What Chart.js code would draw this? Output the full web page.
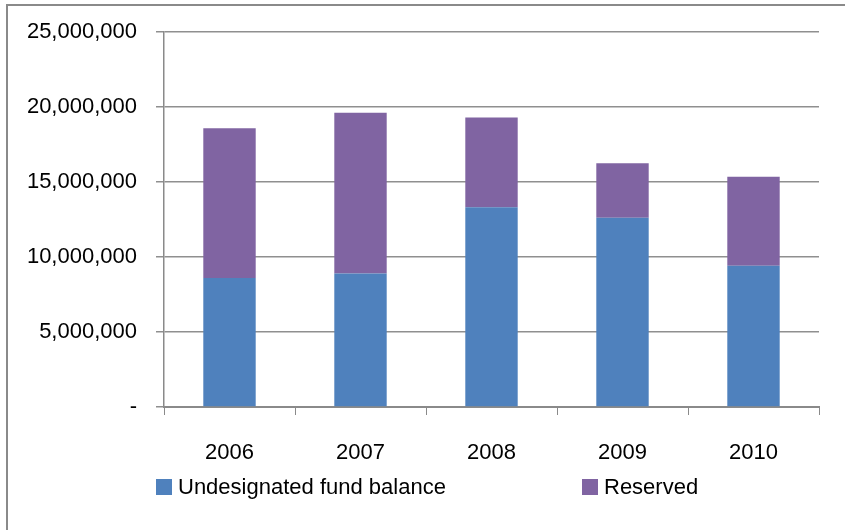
<!DOCTYPE html>
<html>
<head>
<meta charset="utf-8">
<script src="https://cdn.jsdelivr.net/npm/chart.js@4/dist/chart.umd.min.js"></script>
<style>
  html, body { margin: 0; padding: 0; background: #fff; overflow: hidden; }
  #wrap { position: relative; width: 845px; height: 530px; }
  #frame { position: absolute; left: 6px; top: 4px; width: 900px; height: 600px; border: 2px solid #8a8a8a; box-sizing: border-box; }
  canvas { position: absolute; left: 0; top: 0; }
</style>
</head>
<body>
<div id="wrap">
  <div id="frame"></div>
  <canvas id="c" width="845" height="530"></canvas>
</div>
<script>
const categories = ["2006", "2007", "2008", "2009", "2010"];
const undesignated = [8600000, 8910000, 13320000, 12620000, 9430000];
const reserved = [9990000, 10720000, 5990000, 3640000, 5920000];
const seriesNames = ["Undesignated fund balance", "Reserved"];
const yTicks = [0, 5000000, 10000000, 15000000, 20000000, 25000000];

const FONT = "'Liberation Sans', Arial, sans-serif";
const legendX = [156, 582];

const legendPlugin = {
  id: 'customLegend',
  afterDraw(chart) {
    const ctx = chart.ctx;
    ctx.save();
    ctx.font = "22px " + FONT;
    ctx.textBaseline = 'middle';
    ctx.textAlign = 'left';
    chart.data.datasets.forEach((ds, i) => {
      const x = legendX[i];
      const y = 487;
      ctx.fillStyle = ds.backgroundColor;
      ctx.fillRect(x, y - 8, 16, 16);
      ctx.fillStyle = '#000';
      ctx.fillText(ds.label, x + 22, y + 1);
    });
    ctx.restore();
  }
};

new Chart(document.getElementById('c'), {
  type: 'bar',
  data: {
    labels: categories,
    datasets: [
      { label: seriesNames[0], data: undesignated, backgroundColor: '#4F81BD', borderWidth: 0 },
      { label: seriesNames[1], data: reserved, backgroundColor: '#8064A2', borderWidth: 0 }
    ]
  },
  options: {
    responsive: false,
    animation: false,
    devicePixelRatio: 1,
    layout: { padding: { left: 0, right: 26, top: 30, bottom: 0 } },
    datasets: { bar: { barPercentage: 0.4, categoryPercentage: 1.0 } },
    plugins: { legend: { display: false }, tooltip: { enabled: false }, title: { display: false } },
    scales: {
      x: {
        stacked: true,
        offset: true,
        grid: { display: true, drawOnChartArea: false, drawTicks: true, tickLength: 8, color: '#8a8a8a', offset: true },
        border: { display: true, color: '#8a8a8a', width: 2 },
        ticks: { color: '#000', font: { family: FONT, size: 22 }, padding: 25, maxRotation: 0 },
        afterFit(axis) { axis.height = 123; }
      },
      y: {
        stacked: true,
        min: 0,
        max: 25000000,
        afterBuildTicks(axis) { axis.ticks = yTicks.map(v => ({ value: v })); },
        grid: { color: '#8f8f8f', lineWidth: 1.5, drawTicks: true, tickLength: 8 },
        border: { display: true, color: '#8a8a8a', width: 1.5 },
        ticks: {
          color: '#000',
          font: { family: FONT, size: 22 },
          padding: 19,
          callback(v) { return v === 0 ? '-' : Number(v).toLocaleString('en-US'); }
        },
        afterFit(axis) { axis.width = 164; }
      }
    }
  },
  plugins: [legendPlugin]
});
</script>
</body>
</html>
